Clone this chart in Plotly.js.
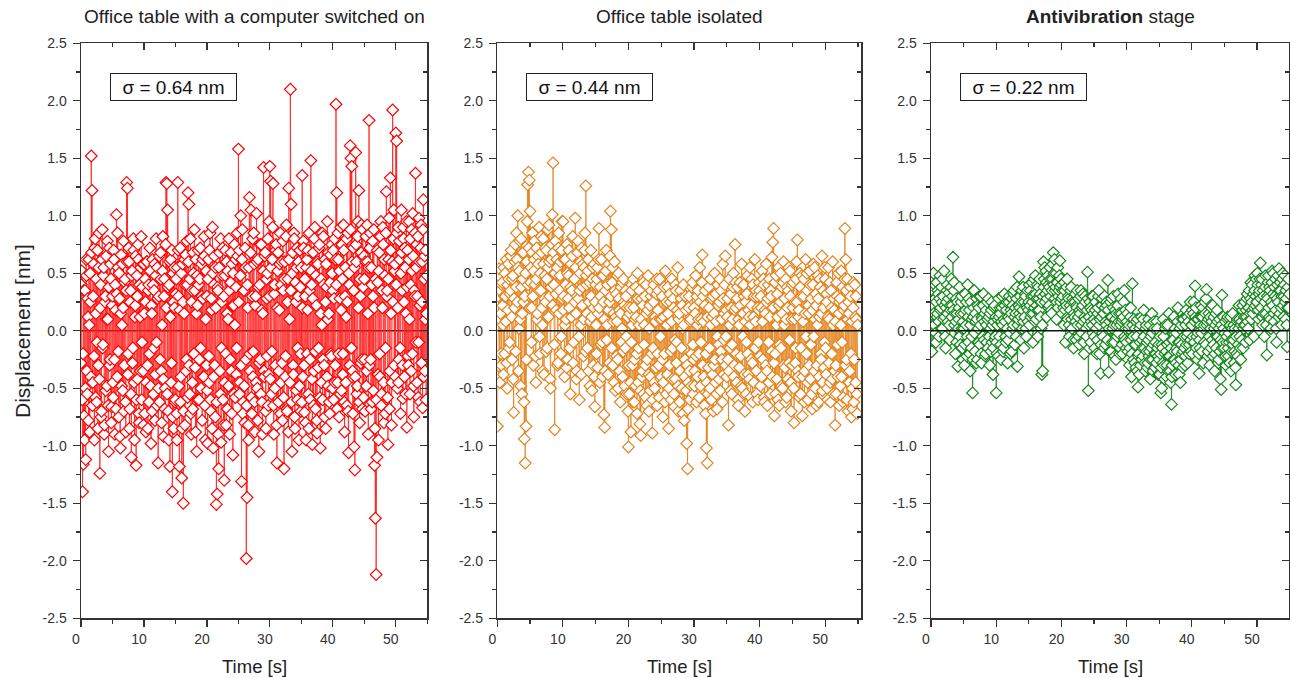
<!DOCTYPE html>
<html>
<head>
<meta charset="utf-8">
<script src="https://cdn.plot.ly/plotly-3.0.1.min.js"></script>
<style>
  html, body { margin: 0; padding: 0; background: #ffffff; }
  #chart { width: 1290px; height: 678px; }
</style>
</head>
<body>
<div id="chart"></div>
<script>
// ---------------- DATA ----------------
const panelTitles = [
  'Office table with a computer switched on',
  'Office table isolated',
  '<b>Antivibration</b> stage'
];
const sigmaLabels = ['σ = 0.64 nm', 'σ = 0.44 nm', 'σ = 0.22 nm'];
const timeStart = 0;       // s
const timeStep = 0.0625;   // s, sampling interval
const timeTickVals = [0, 10, 20, 30, 40, 50];
const timeTickText = ['0', '10', '20', '30', '40', '50'];
const dispTickVals = [-2.5, -2.0, -1.5, -1.0, -0.5, 0.0, 0.5, 1.0, 1.5, 2.0, 2.5];
const dispTickText = ['-2.5', '-2.0', '-1.5', '-1.0', '-0.5', '0.0', '0.5', '1.0', '1.5', '2.0', '2.5'];

// Displacement [nm], office table with a computer switched on
const officeOn = [
  -0.28, 0.40, 0.52, -0.60, -1.40, -0.20, -1.16, 0.35, -0.74, -0.95, 0.35, -0.50, -1.12, 0.62, 0.48, -0.35, -0.55, 0.28, 0.12, -0.78, 0.62, 0.05, -0.88, 0.50, 0.25, -0.40, 1.52, 0.68, 1.22, -0.65, -0.45, 0.30, 0.58, -0.22, -0.95, 0.72, 0.80, -0.58, 0.15, 0.45, -0.62, -0.10, 0.70, -0.85, -0.30, 0.55, 0.85, -0.42, -1.24, 0.20, 0.40, -0.75, -0.70, 0.62, 0.88, -0.15, -0.12, 0.48, 0.55, -0.90, -0.82, 0.25, 0.30, -0.52, 0.65, 0.10, -0.48, 0.78, 0.10, -0.65, -1.05, 0.38, 0.72, -0.30, -0.25, 0.58, 0.45, -0.80, -0.66, 0.22,
  0.30, -0.45, -0.58, 0.70, 0.62, -0.25, -0.90, 0.40, 0.18, -0.68, 1.01, 0.32, -0.40, 0.85, 0.55, -0.18, -0.75, 0.50, 0.28, -0.92, -1.02, 0.15, 0.66, -0.48, 0.05, 0.58, -0.52, 0.20, 0.78, -0.70, -0.30, 0.42, 0.45, -0.62, -0.88, 0.35, 1.29, 0.60, 1.24, -0.38, -0.20, 0.72, 0.60, -0.85, -0.68, 0.25, 0.35, -0.55, -1.10, 0.48, 0.52, -0.28, -0.15, 0.80, 0.70, -0.45, -0.95, 0.12, 0.22, 0.65, -1.17, -0.60, 0.48, 0.30, -0.42, 0.75, 0.62, -0.72, -0.80, 0.40, 0.12, -0.35, 0.55, 0.82, -0.60, -0.10, 0.38, 0.58, -0.35, -0.82,
  0.58, 0.15, -0.72, 0.45, 0.25, -0.88, -0.45, 0.60, 0.60, -0.30, -0.85, 0.35, 0.40, -0.62, -0.20, 0.72, 0.52, -0.48, -0.98, 0.22, 0.15, -0.70, 0.62, 0.40, -0.55, -0.15, 0.35, 0.58, -0.78, -0.38, 0.48, 0.80, -0.10, -0.65, 0.55, 0.28, -1.15, -0.50, 0.30, 0.65, -0.62, -0.25, 0.68, 0.45, -0.35, -0.80, 0.05, 0.52, 0.82, -0.42, -0.92, 0.30, 0.45, -0.68, -0.50, 0.75, 1.29, 0.20, 1.28, -0.55, 1.05, 0.38, -0.70, -0.95, 0.40, 0.60, -1.18, 0.12, 0.62, -0.45, -0.28, 0.70, -1.40, -0.75, 0.50, 0.25, -0.85, 0.55, 0.20, -0.62,
  -0.60, 0.32, 0.45, -0.72, -0.95, 0.55, 1.29, 0.70, 0.30, -0.48, -1.18, 0.18, 0.72, -0.62, -0.40, 0.50, -1.28, -0.85, 0.58, 0.25, -1.50, -0.70, 0.15, 0.62, -0.82, 0.40, 0.66, -0.35, -0.25, 0.78, 0.40, -0.58, 1.20, 0.60, 1.10, -0.30, -0.55, 0.45, 0.80, -0.72, -0.90, 0.25, 0.35, -0.45, -0.68, 0.68, 0.50, -0.20, 0.88, 0.35, -0.32, -0.88, 0.62, 0.15, -1.05, 0.48, 0.22, -0.60, 0.70, 0.40, -0.60, -0.25, 0.45, 0.72, -0.15, -0.50, 0.58, 0.30, -0.78, 0.62, 0.28, -0.40, -0.40, 0.82, 0.65, -0.65, -0.95, 0.10, 0.52, -0.30,
  0.30, -0.52, -0.98, 0.45, 0.62, -0.22, -0.45, 0.70, 0.85, -0.60, -0.70, 0.28, 0.18, -0.85, 0.90, 0.50, -1.02, -0.40, 0.40, 0.65, -0.30, -0.75, 0.55, 0.20, -1.51, -0.62, -1.42, 0.38, 0.35, -0.90, -1.20, 0.55, 0.68, -0.35, -0.55, 0.80, -0.97, -0.15, 0.25, 0.48, 0.72, -0.60, -0.82, 0.30, -1.30, -0.45, 0.48, 0.70, -0.20, -0.82, 0.60, 0.15, -0.68, 0.52, 0.10, -0.48, 0.80, 0.35, -0.90, -0.25, 0.42, 0.68, -0.35, -0.72, 0.58, 0.22, -1.08, 0.50, 0.22, -0.55, 0.75, 0.05, -0.58, 0.62, 0.38, -0.38, -0.15, 0.85, 0.65, -0.45,
  1.58, 0.25, 0.70, -0.55, -0.45, 0.48, 1.00, -0.30, -1.31, 0.62, 0.88, -0.72, -0.62, 0.35, 0.35, -0.48, -0.80, 0.72, 0.55, -0.25, -1.98, -0.65, -1.45, 0.40, 0.20, -0.82, -0.95, 0.55, 1.16, -0.20, -0.35, 0.68, 1.05, -0.58, -0.72, 0.30, 0.80, -0.40, -0.18, 0.85, 0.58, -0.62, -0.88, 0.22, 0.30, -0.45, 1.02, 0.60, -0.50, -0.78, 0.62, 0.38, -1.05, -0.28, 0.40, 0.75, -0.25, -0.55, 0.75, 0.18, -0.62, -0.90, 0.15, 0.52, 1.42, -0.35, -0.40, 0.65, 0.68, -0.70, -0.85, 0.45, 0.28, -0.22, 0.50, 0.80, -0.65, -0.38, 0.95, 0.30,
  1.43, -0.42, 1.30, 0.55, -0.55, -0.18, 0.62, 0.90, 1.28, -0.65, -0.90, 0.32, 0.40, -0.50, -0.30, 0.70, 0.75, -0.82, -1.15, 0.20, 0.52, 0.68, -0.62, -0.35, 0.18, 0.58, 0.85, -0.72, -0.45, 0.40, 0.60, -0.28, -0.78, 0.78, 0.35, -0.58, -1.20, 0.45, 0.60, -0.40, -0.22, 0.82, 0.92, -0.68, -0.70, 0.25, 0.45, -0.88, 1.24, 0.62, 0.10, -0.45, 2.10, 0.35, 1.10, -0.62, -1.05, 0.50, 0.68, -0.30, -0.38, 0.85, 0.80, -0.75, -0.85, 0.42, 0.25, -0.52, 0.55, 0.72, -0.60, -0.15, 0.30, 0.60, -0.95, -0.48, 0.70, 0.38, -0.20, -0.70,
  0.55, -0.62, 1.35, 0.20, -0.40, 0.78, 0.72, -0.30, -0.71, 0.45, 0.30, -0.80, -0.95, 0.55, 0.62, -0.20, 0.18, 0.70, -0.55, -0.85, 0.85, 0.35, -0.25, -0.60, 1.48, 0.52, 0.40, -0.42, -0.99, 0.28, 0.68, -0.65, -0.35, 0.80, 0.90, -0.18, -0.68, 0.48, 0.22, -0.78, -0.89, 0.60, 0.58, -0.32, -0.15, 0.72, 0.75, -0.58, -1.02, 0.15, 0.45, -0.45, 0.05, 0.85, -0.60, -0.25, 0.82, 0.40, -0.30, -0.75, 0.62, 0.25, -0.85, 0.58, 0.38, -0.40, 0.95, 0.10, -0.48, 0.68, 0.15, -0.62, -0.72, 0.42, 0.66, -0.20, -0.22, 0.75, 0.50, -0.50,
  0.35, 0.70, -0.60, 0.28, 0.80, -0.45, -0.30, 0.62, 1.97, 0.40, 1.20, -0.68, -0.45, 0.85, 0.62, -0.20, -0.75, 0.52, 0.28, -0.55, 0.90, 0.18, -0.52, 0.75, 0.45, -0.38, -0.20, 0.92, 0.70, -0.62, -0.88, 0.30, 0.55, -0.45, 0.12, 0.80, -0.65, 0.25, 0.85, -0.70, -1.06, 0.50, 0.40, -0.30, 1.61, 0.88, 1.50, -0.15, 1.43, 0.60, -0.35, -0.72, 0.72, 0.35, -1.01, 0.55, -1.21, -0.40, 1.55, 0.75, 0.60, -0.55, -0.48, 0.82, 0.95, 0.20, 1.22, -0.62, -0.80, 0.45, 0.30, -0.28, 0.68, 0.92, -0.25, -0.68, 0.88, 0.38, -0.58, 0.65,
  0.45, -0.25, -0.70, 0.60, 0.82, -0.48, -0.35, 0.92, 0.60, 0.15, -0.90, 0.55, 1.83, -0.30, 0.72, 0.85, -0.25, -0.68, 0.55, 0.40, -0.62, 0.78, 0.30, -0.52, 0.88, 0.20, -1.17, -0.85, -1.63, 0.45, -2.12, -0.60, -1.10, 0.70, 0.42, -0.38, -0.95, 0.52, 0.68, -0.20, -0.40, 0.82, 0.95, -0.65, -0.55, 0.35, 0.20, 0.90, 0.75, -0.45, -0.80, 0.62, 0.48, -0.72, -0.15, 0.85, 1.21, 0.30, 0.35, -0.58, -0.99, 0.45, 0.62, 0.98, -0.68, -0.35, 1.33, 0.70, 0.15, -0.82, -0.45, 0.60, 1.92, 0.25, 0.80, 1.05, -0.30, 0.52, 0.58, -0.40,
  1.72, 0.40, 1.65, 0.85, -0.50, 0.20, 0.90, -0.45, -0.25, 0.78, 0.62, -0.15, -0.72, 0.50, 1.05, 0.68, 0.35, -0.30, -0.59, 0.90, 0.80, 0.25, -0.40, 0.72, 0.55, -0.55, 0.15, 0.95, -0.84, 0.38, 0.70, -0.22, -0.30, 0.62, 0.95, 0.10, -0.55, 0.80, 0.40, -0.35, 0.88, 0.52, -0.20, 1.02, 0.65, -0.48, -0.75, 0.35, 0.30, 0.85, 1.37, -0.10, 0.55, 0.75, -0.45, 0.30, 0.82, -0.58, -0.10, 0.98, 0.60, 0.22, -0.62, 0.72, 0.92, -0.28, 0.25, 0.60, -0.67, 0.88, 1.14, -0.40, 0.45, 0.65, -0.35, 0.10, 0.70, -0.60, 0.15, 0.48
];

// Displacement [nm], office table isolated
const officeIsolated = [
  -0.83, -0.40, 0.30, 0.48, 0.54, 0.10, -0.45, 0.35, 0.15, -0.20, -0.30, 0.40, 0.42, 0.22, 0.05, -0.38, 0.55, 0.30, -0.20, 0.50, 0.30, 0.08, 0.62, -0.28, -0.50, 0.40, 0.18, 0.58, 0.45, -0.15, -0.10, 0.32, 0.35, 0.65, 0.70, 0.12, -0.25, 0.45, 0.48, -0.42, -0.71, 0.28, 0.20, 0.60, 0.75, -0.18, 0.38, 0.85, 0.62, 0.25, 1.00, 0.55, -0.35, 0.02, 0.52, 0.78, 0.10, -0.48, 0.80, 0.38, -0.55, 0.15, 0.45, 0.68, 0.25, -0.62, -0.94, 0.30, -1.15, 0.50, -0.83, -0.25, 0.60, 0.95, 1.27, 0.40, 1.38, 0.72, 1.31, 0.20,
  1.04, 0.42, 0.55, -0.10, 0.20, 0.68, 0.85, 0.30, -0.30, 0.52, 0.62, 0.78, 0.40, -0.22, -0.45, 0.45, 0.72, 0.10, 0.15, 0.65, 0.58, 0.35, 0.90, -0.05, -0.20, 0.50, 0.35, 0.82, 0.68, 0.20, 0.05, -0.35, 0.80, 0.58, -0.38, 0.28, 0.48, 0.72, 0.25, -0.18, 0.70, 0.45, -0.15, 0.88, 0.55, 0.12, 0.92, 0.60, 0.30, -0.42, -0.50, 0.38, 0.62, 0.75, 1.01, 0.22, 1.46, 0.68, 0.40, -0.12, -0.86, 0.50, 0.78, 0.32, 0.18, 0.62, 0.55, -0.30, -0.28, 0.72, 0.85, 0.15, 0.35, 0.48, 0.60, -0.20, -0.05, 0.70, 0.95, 0.28,
  0.95, 0.18, 0.30, 0.62, -0.40, 0.05, 0.62, 0.40, 0.10, -0.32, 0.75, 0.50, -0.25, 0.28, 0.48, 0.70, 0.20, -0.15, -0.55, 0.38, 0.58, 0.12, 0.35, 0.65, 0.82, -0.28, -0.10, 0.45, 0.45, 0.25, 0.98, 0.55, 0.15, -0.42, -0.35, 0.30, 0.68, 0.78, 0.28, -0.05, -0.60, 0.35, 0.50, 0.60, 0.05, -0.38, 0.72, 0.22, 0.38, 0.58, -0.22, 0.10, 0.55, 0.70, 0.85, -0.18, 1.26, 0.48, 0.40, 0.15, -0.15, 0.52, 0.62, -0.35, 0.25, 0.42, -0.48, 0.08, 0.70, 0.30, 0.12, -0.52, 0.45, 0.55, -0.30, 0.20, 0.58, -0.40, -0.66, 0.25,
  0.40, 0.05, -0.20, 0.45, 0.55, -0.32, 0.15, 0.62, 0.89, 0.20, -0.45, 0.38, 0.30, -0.12, 0.62, 0.48, -0.10, -0.40, 0.48, 0.25, -0.73, 0.10, -0.84, -0.35, 0.35, 0.52, 0.70, -0.08, 0.05, 0.40, -0.38, 0.18, 0.58, -0.28, 0.25, 0.65, 1.04, 0.30, 0.88, -0.15, 0.42, 0.55, -0.30, 0.08, 0.15, -0.45, 0.60, 0.35, -0.52, 0.12, 0.32, -0.22, 0.08, 0.48, -0.25, -0.50, 0.50, 0.28, 0.18, -0.35, -0.62, 0.15, 0.38, -0.10, 0.02, 0.42, -0.40, -0.18, 0.45, 0.25, 0.22, -0.48, -0.15, 0.35, 0.30, -0.05, -0.55, 0.20, 0.12, -0.70,
  -1.01, -0.30, -0.55, 0.15, 0.20, -0.45, -0.88, -0.10, 0.35, 0.05, -0.30, -0.62, 0.45, 0.20, -0.62, -0.25, 0.10, -0.48, 0.38, 0.12, -0.20, -0.72, 0.50, 0.28, -0.45, -0.15, 0.05, 0.35, -0.81, -0.52, -0.91, 0.10, 0.28, -0.40, -0.35, 0.22, 0.42, -0.55, -0.12, 0.05, 0.30, -0.30, -0.58, 0.40, 0.15, -0.65, -0.25, 0.18, 0.48, -0.38, -0.70, 0.02, 0.22, -0.52, -0.40, 0.30, 0.35, -0.20, -0.89, -0.60, -0.15, 0.25, 0.40, -0.45, -0.50, 0.12, 0.08, -0.32, 0.32, 0.45, -0.65, -0.20, 0.18, 0.35, -0.30, -0.58, 0.45, 0.10, -0.05, -0.42,
  -0.40, 0.10, 0.30, -0.25, -0.75, -0.45, 0.12, 0.38, -0.20, -0.62, 0.52, 0.05, -0.55, 0.25, 0.05, -0.38, 0.38, 0.15, -0.85, -0.50, -0.30, 0.32, 0.25, -0.18, -0.60, 0.08, 0.45, -0.42, -0.15, 0.28, 0.20, -0.55, -0.66, -0.08, -0.42, 0.40, 0.35, -0.28, -0.10, 0.18, 0.55, -0.48, -0.70, 0.10, 0.15, -0.62, -0.35, 0.35, 0.28, -0.15, -0.50, 0.22, 0.02, -0.72, 0.40, 0.05, -0.78, -0.40, -0.25, 0.30, 0.18, -0.52, -0.98, -0.30, -1.20, -0.68, -0.45, 0.20, 0.30, -0.35, -0.60, 0.08, 0.10, -0.48, -0.20, 0.38, 0.42, -0.12, -0.55, -0.25,
  0.20, -0.48, -0.35, 0.15, 0.48, -0.22, -0.62, 0.30, 0.05, -0.40, 0.35, 0.10, -0.20, -0.58, 0.55, 0.25, -0.48, -0.10, 0.10, 0.42, 0.66, -0.30, 0.30, 0.08, -0.40, -0.65, 0.22, 0.35, -0.72, -0.20, -1.02, -0.45, -1.15, 0.12, -0.55, -0.32, 0.38, 0.20, -0.15, -0.50, 0.45, 0.05, -0.60, 0.28, 0.12, -0.38, 0.30, -0.70, -0.30, 0.15, 0.50, -0.25, -0.45, 0.32, 0.08, -0.55, -0.68, -0.05, 0.40, 0.22, -0.12, -0.42, 0.25, 0.45, -0.52, -0.18, 0.35, 0.10, -0.25, -0.62, 0.58, 0.28, -0.38, -0.08, 0.15, 0.40, 0.65, -0.30, -0.05, 0.18,
  -0.40, 0.12, 0.28, -0.25, -0.82, -0.35, 0.45, 0.05, -0.15, -0.52, 0.32, 0.20, -0.55, -0.12, 0.10, 0.38, 0.50, -0.40, -0.30, 0.18, 0.75, 0.42, 0.20, -0.20, -0.45, 0.28, 0.38, -0.60, -0.65, 0.10, 0.05, -0.32, 0.42, 0.22, -0.22, -0.48, 0.58, 0.15, -0.50, -0.05, 0.15, 0.40, 0.30, -0.38, -0.70, 0.08, 0.25, -0.55, -0.10, 0.32, 0.48, -0.20, -0.38, 0.18, 0.12, -0.42, 0.55, 0.05, -0.58, -0.25, 0.22, 0.45, -0.28, -0.62, 0.40, 0.12, -0.45, 0.30, 0.62, -0.15, 0.08, 0.35, -0.35, -0.55, 0.30, 0.20, -0.60, -0.10, 0.18, 0.42,
  0.35, -0.22, -0.48, 0.30, 0.20, -0.40, 0.52, 0.08, -0.25, 0.45, 0.40, -0.58, -0.62, 0.18, 0.15, -0.30, 0.58, 0.25, -0.35, -0.65, 0.28, 0.40, -0.10, -0.45, 0.45, 0.12, -0.55, 0.35, 0.30, -0.18, 0.64, -0.40, 0.77, 0.20, 0.89, -0.28, -0.74, 0.42, -0.20, -0.55, 0.48, 0.05, -0.42, 0.32, 0.12, -0.60, 0.55, 0.22, -0.65, -0.12, 0.25, 0.50, -0.15, -0.48, 0.38, 0.15, -0.50, 0.42, 0.60, -0.30, 0.05, 0.28, -0.32, -0.62, 0.45, 0.10, -0.58, 0.38, 0.20, -0.42, 0.35, 0.55, -0.28, -0.08, 0.52, 0.30, -0.45, -0.70, 0.10, 0.40,
  -0.30, 0.20, 0.42, -0.50, -0.80, 0.10, 0.25, -0.28, -0.15, 0.45, 0.60, 0.25, 0.79, -0.35, -0.40, 0.12, 0.18, -0.58, 0.50, 0.38, -0.55, -0.15, 0.30, 0.48, -0.74, -0.40, 0.08, 0.30, 0.45, -0.62, -0.35, 0.15, 0.62, -0.05, -0.20, 0.50, 0.35, -0.45, -0.60, 0.22, 0.15, -0.30, 0.52, 0.40, -0.42, -0.12, 0.28, -0.55, -0.68, 0.18, 0.40, 0.58, -0.05, -0.35, 0.55, 0.10, -0.50, 0.32, 0.22, -0.65, -0.30, 0.05, 0.48, 0.28, -0.62, -0.40, 0.12, 0.45, 0.38, -0.20, -0.25, 0.15, 0.65, -0.52, -0.45, 0.35, 0.20, -0.32, -0.10, 0.55,
  0.45, -0.15, -0.38, 0.32, 0.25, -0.50, -0.60, 0.12, 0.55, -0.28, 0.10, 0.42, -0.45, -0.62, 0.35, 0.20, -0.20, -0.42, 0.60, 0.05, -0.55, 0.28, 0.18, -0.35, -0.82, 0.08, -0.30, -0.55, 0.42, 0.30, -0.12, -0.40, 0.50, 0.15, -0.65, 0.25, 0.28, -0.48, 0.05, 0.52, -0.40, -0.10, 0.38, -0.62, -0.58, 0.18, 0.22, 0.45, 0.89, -0.30, 0.62, 0.35, -0.25, -0.60, 0.45, 0.10, -0.70, 0.25, 0.15, -0.45, -0.35, 0.38, 0.30, -0.20, -0.75, 0.08, -0.50, -0.68, 0.20, 0.42, -0.62, -0.25, 0.40, 0.12, -0.45, 0.30, 0.10, -0.55, -0.72, 0.05
];

// Displacement [nm], antivibration stage
const antivibration = [
  0.10, 0.30, -0.18, 0.05, 0.35, 0.22, 0.50, 0.15, 0.05, 0.40, 0.28, -0.02, -0.10, 0.25, 0.42, 0.12, 0.15, 0.35, 0.32, 0.08, -0.05, 0.28, 0.48, 0.18, 0.20, 0.02, 0.38, 0.25, 0.02, 0.45, 0.30, 0.10, 0.52, 0.22, 0.12, -0.05, -0.15, 0.20, 0.25, 0.35, 0.40, 0.15, 0.08, 0.28, 0.33, 0.05, -0.08, 0.22, 0.18, 0.38, 0.45, 0.12, 0.22, 0.30, 0.64, 0.18, 0.35, 0.42, 0.05, 0.15, -0.20, 0.08, 0.28, -0.10, 0.15, 0.25, -0.31, 0.02, 0.10, 0.20, 0.38, -0.05, -0.12, 0.15, 0.25, 0.30, 0.02, -0.15, -0.25, 0.08,
  0.15, 0.02, -0.30, -0.12, 0.32, 0.18, 0.05, 0.25, -0.22, -0.05, 0.40, 0.12, -0.10, 0.28, 0.18, -0.20, -0.35, 0.05, 0.25, -0.15, -0.05, 0.10, -0.54, -0.25, 0.12, 0.20, 0.35, -0.02, -0.18, 0.15, 0.08, -0.28, 0.28, 0.10, -0.25, 0.22, 0.02, -0.10, 0.20, 0.30, -0.12, 0.05, 0.30, -0.20, -0.28, 0.12, 0.10, -0.05, 0.22, 0.32, -0.08, 0.08, 0.15, -0.22, -0.20, 0.18, 0.05, -0.10, 0.25, 0.10, -0.15, 0.28, 0.12, -0.05, -0.30, 0.15, 0.02, -0.18, 0.18, 0.25, -0.10, 0.05, -0.38, -0.15, 0.08, 0.20, 0.22, -0.08, -0.05, 0.12,
  -0.54, -0.10, -0.20, 0.05, 0.10, -0.22, 0.28, 0.12, -0.05, 0.20, 0.15, -0.12, -0.25, 0.08, 0.20, 0.30, 0.05, -0.18, -0.15, 0.10, 0.32, 0.22, 0.08, -0.05, -0.10, 0.18, 0.25, 0.02, -0.28, -0.08, 0.12, 0.25, 0.30, 0.10, -0.02, -0.20, 0.18, 0.15, -0.18, 0.28, 0.22, 0.02, 0.05, 0.32, 0.35, 0.12, -0.12, 0.20, 0.15, -0.05, 0.28, 0.38, -0.31, 0.05, 0.10, 0.22, 0.47, 0.15, 0.20, 0.30, -0.08, 0.12, 0.25, 0.35, 0.02, 0.18, 0.38, 0.08, -0.15, 0.25, 0.12, 0.32, 0.30, 0.02, -0.05, 0.22, 0.20, 0.35, 0.08, 0.18,
  0.25, 0.40, 0.05, 0.22, 0.35, 0.12, 0.15, 0.30, 0.42, 0.25, -0.10, 0.15, 0.30, 0.45, 0.20, 0.08, 0.48, 0.32, 0.10, 0.22, 0.28, 0.40, -0.05, 0.18, 0.38, 0.28, 0.18, 0.45, 0.32, 0.12, 0.02, 0.25, -0.38, 0.05, -0.35, 0.30, 0.60, 0.38, 0.45, 0.55, 0.25, 0.32, 0.52, 0.42, 0.12, 0.28, 0.35, 0.48, 0.40, 0.20, 0.22, 0.38, 0.55, 0.45, 0.30, 0.18, 0.15, 0.35, 0.45, 0.58, 0.68, 0.40, 0.50, 0.62, 0.28, 0.35, 0.38, 0.50, 0.10, 0.25, 0.42, 0.55, 0.20, 0.30, 0.35, 0.48, 0.61, 0.38, 0.25, 0.45,
  0.40, 0.28, 0.15, 0.35, 0.30, 0.20, 0.05, 0.42, 0.35, 0.18, -0.10, 0.25, 0.22, 0.38, 0.45, 0.12, 0.10, 0.30, 0.28, 0.05, -0.05, 0.22, 0.18, 0.35, 0.38, 0.10, 0.02, 0.28, 0.25, -0.08, -0.15, 0.15, 0.12, 0.25, 0.32, 0.08, -0.08, 0.22, 0.20, 0.35, 0.05, 0.12, 0.28, -0.05, -0.12, 0.18, 0.15, 0.30, 0.35, 0.05, -0.02, 0.20, 0.22, 0.32, 0.08, -0.10, -0.20, 0.12, 0.30, 0.25, 0.10, 0.02, -0.05, 0.18, 0.51, 0.28, -0.52, 0.05, 0.12, -0.15, 0.25, 0.20, -0.10, 0.08, 0.18, 0.30, 0.05, -0.02, 0.30, 0.15,
  0.10, -0.05, -0.15, 0.18, 0.25, 0.08, 0.02, -0.20, -0.08, 0.15, 0.20, 0.30, 0.35, 0.05, -0.20, 0.10, -0.37, -0.12, 0.12, 0.22, 0.28, -0.02, -0.05, 0.15, 0.15, -0.15, 0.30, 0.20, -0.12, 0.08, 0.05, 0.25, 0.22, -0.08, 0.44, 0.18, -0.36, 0.02, 0.08, -0.18, 0.25, 0.12, -0.18, 0.28, 0.12, -0.10, 0.02, 0.20, 0.30, 0.05, -0.10, -0.22, 0.18, 0.10, -0.25, 0.15, 0.05, -0.05, 0.22, 0.32, -0.02, 0.08, 0.15, -0.20, -0.15, 0.05, 0.28, 0.15, 0.08, -0.12, -0.20, 0.10, 0.12, 0.25, 0.35, -0.05, -0.08, 0.18, 0.02, -0.15,
  -0.10, 0.08, 0.15, -0.18, -0.25, 0.02, 0.05, -0.30, -0.15, 0.12, 0.20, -0.08, -0.40, -0.20, 0.41, 0.05, -0.05, -0.25, 0.10, -0.12, -0.28, 0.02, -0.12, -0.32, 0.08, -0.05, -0.35, 0.10, -0.49, -0.22, -0.20, -0.38, 0.02, -0.10, -0.30, 0.05, 0.12, -0.25, -0.08, -0.15, -0.22, 0.10, 0.18, -0.05, -0.15, -0.28, -0.35, 0.02, 0.05, -0.18, -0.10, -0.32, -0.28, -0.08, 0.10, -0.22, -0.18, 0.05, -0.42, -0.25, -0.05, -0.15, 0.15, -0.02, -0.25, -0.35, -0.12, 0.08, 0.02, -0.20, -0.32, -0.10, -0.20, -0.28, 0.08, 0.02, -0.15, -0.22, -0.38, -0.12,
  -0.25, -0.38, -0.05, -0.20, -0.54, -0.32, -0.50, -0.12, -0.15, -0.28, 0.10, -0.05, -0.30, -0.42, -0.20, 0.02, 0.05, -0.18, -0.40, -0.30, -0.12, 0.05, -0.35, -0.22, 0.15, -0.10, -0.22, -0.35, -0.45, -0.15, -0.64, -0.40, -0.30, -0.08, -0.08, -0.25, 0.12, -0.18, -0.25, 0.02, -0.38, -0.28, -0.02, -0.15, -0.18, 0.08, 0.20, -0.10, -0.30, -0.38, -0.10, 0.02, -0.45, -0.25, 0.05, -0.12, -0.20, 0.10, -0.32, -0.18, 0.10, -0.05, -0.15, -0.30, -0.22, 0.05, 0.18, -0.12, -0.05, 0.12, -0.28, -0.02, 0.08, -0.20, -0.12, 0.15, 0.25, -0.08, -0.18, 0.05,
  0.05, 0.18, -0.20, -0.05, 0.15, 0.25, -0.10, 0.08, 0.39, 0.12, 0.20, -0.15, -0.05, 0.10, -0.25, -0.02, 0.10, -0.20, -0.37, -0.08, -0.15, 0.05, 0.22, 0.12, -0.02, -0.18, 0.12, 0.20, -0.28, 0.02, 0.05, -0.10, 0.25, 0.15, -0.12, 0.28, 0.36, 0.05, 0.08, -0.22, -0.18, 0.10, 0.15, -0.05, -0.30, 0.12, 0.02, -0.15, 0.20, 0.08, -0.08, 0.22, -0.22, -0.12, 0.12, 0.02, -0.35, -0.20, 0.05, 0.15, -0.15, -0.05, 0.18, 0.08, -0.05, -0.28, -0.25, 0.02, 0.10, -0.18, -0.42, -0.08, -0.51, 0.05, 0.31, -0.15, -0.10, 0.12, 0.02, -0.22,
  -0.15, -0.02, 0.08, -0.22, -0.30, -0.10, -0.05, 0.10, 0.12, -0.15, -0.22, -0.02, -0.10, -0.28, 0.05, 0.12, -0.35, -0.08, -0.18, 0.02, 0.15, -0.12, -0.08, 0.05, -0.28, -0.18, 0.02, -0.32, -0.47, -0.05, -0.20, 0.08, 0.10, -0.22, -0.12, 0.02, 0.22, 0.10, -0.05, -0.15, -0.25, 0.05, 0.08, -0.08, 0.18, 0.22, -0.15, 0.02, 0.05, 0.12, 0.25, 0.05, -0.10, 0.18, 0.12, 0.28, 0.32, 0.08, 0.02, 0.20, 0.20, 0.35, -0.08, 0.15, 0.28, 0.42, 0.10, 0.25, 0.40, 0.18, 0.15, 0.32, -0.05, 0.20, 0.35, 0.48, 0.22, 0.30, 0.45, 0.25,
  0.25, 0.50, 0.40, 0.18, 0.10, 0.32, 0.35, 0.45, 0.59, 0.28, 0.20, 0.40, 0.45, 0.12, 0.05, 0.35, 0.30, 0.15, -0.05, 0.25, 0.38, 0.48, 0.15, 0.05, -0.21, 0.30, 0.28, 0.42, 0.48, 0.20, 0.12, 0.38, 0.35, 0.10, 0.02, 0.25, 0.42, 0.52, 0.22, 0.32, 0.50, 0.15, 0.08, 0.38, 0.30, 0.45, 0.18, 0.02, -0.10, 0.28, 0.40, 0.48, 0.25, 0.12, 0.54, 0.35, 0.15, 0.42, 0.35, 0.20, 0.05, 0.30, 0.45, 0.50, 0.22, 0.12, 0.30, 0.40, 0.48, 0.25, 0.10, 0.35, 0.28, 0.05, -0.14, 0.20, 0.38, 0.45, 0.20, 0.32
];

// ---------------- STYLE / LAYOUT ----------------
const W = 1290, H = 678;
const FONT = 'Liberation Sans, Arial, sans-serif';
const AXC = '#333333';
const seriesList = [officeOn, officeIsolated, antivibration];
const markerColors = ['#ff0000', '#e4821c', '#14861a'];
const lineColors = ['rgba(255,30,30,0.8)', 'rgba(228,130,28,0.8)', 'rgba(20,134,26,0.8)'];
const panelsPx = [[81, 427.3], [497.3, 861], [931, 1289]];
const xRanges = [[0, 55], [0, 55.45], [0, 54.9]];
const plotTop = 43.3, plotBottom = 618.3;
const px = v => v / W;
const py = v => 1 - v / H;
const yDomain = [py(plotBottom), py(plotTop)];

const layout = {
  width: W, height: H,
  margin: {l: 0, r: 0, t: 0, b: 0, pad: 0},
  paper_bgcolor: '#ffffff',
  plot_bgcolor: '#ffffff',
  showlegend: false,
  font: {family: FONT, color: '#222'},
  annotations: [],
  shapes: []
};

const data = [];
for (let i = 0; i < 3; i++) {
  const s = i === 0 ? '' : String(i + 1);
  const sTop = String(i + 4);
  const xName = 'x' + s, yName = 'y' + s;
  const xTop = 'x' + sTop, yRight = 'y' + sTop;
  const dom = [px(panelsPx[i][0]), px(panelsPx[i][1])];

  data.push({
    type: 'scatter', mode: 'lines+markers',
    y: seriesList[i], x0: timeStart, dx: timeStep,
    xaxis: xName, yaxis: yName,
    line: {color: lineColors[i], width: 1},
    marker: {symbol: 'diamond', size: 9, color: '#ffffff',
             line: {color: markerColors[i], width: 1.2}},
    hoverinfo: 'skip'
  });
  // empty carrier so the mirrored (top / right) tick axes are drawn
  data.push({type: 'scatter', mode: 'markers', x: [], y: [], xaxis: xTop, yaxis: yRight, hoverinfo: 'skip'});

  const common = {
    showgrid: false, zeroline: false,
    tickcolor: AXC, tickwidth: 1.2, ticklen: 7,
    automargin: false, fixedrange: true
  };

  layout['xaxis' + s] = Object.assign({}, common, {
    domain: dom, range: xRanges[i], anchor: yName,
    showline: true, mirror: true, linecolor: AXC, linewidth: 1.5,
    tickmode: 'array', tickvals: timeTickVals, ticktext: timeTickText,
    ticks: 'outside', ticklabelshift: -5,
    minor: {tickmode: 'linear', tick0: 0, dtick: 5, ticks: 'outside', ticklen: 4, tickcolor: AXC, tickwidth: 1.2},
    tickfont: {family: FONT, size: 14, color: '#333'}
  });
  layout['xaxis' + sTop] = Object.assign({}, common, {
    overlaying: xName, side: 'top', anchor: yRight, range: xRanges[i],
    showline: false,
    tickmode: 'array', tickvals: timeTickVals, ticktext: timeTickText,
    ticks: 'inside', showticklabels: false,
    minor: {tickmode: 'linear', tick0: 0, dtick: 5, ticks: 'inside', ticklen: 4, tickcolor: AXC, tickwidth: 1.2}
  });
  layout['yaxis' + s] = Object.assign({}, common, {
    domain: yDomain, range: [-2.5, 2.5], anchor: xName,
    showline: true, mirror: true, linecolor: AXC, linewidth: 1.5,
    tickmode: 'array', tickvals: dispTickVals, ticktext: dispTickText,
    ticks: 'outside',
    minor: {tickmode: 'linear', tick0: 0, dtick: 0.25, ticks: 'outside', ticklen: 4, tickcolor: AXC, tickwidth: 1.2},
    tickfont: {family: FONT, size: 14, color: '#333'},
    ticklabelstandoff: 3
  });
  layout['yaxis' + sTop] = Object.assign({}, common, {
    overlaying: yName, side: 'right', anchor: xTop, range: [-2.5, 2.5],
    showline: false,
    tickmode: 'array', tickvals: dispTickVals, ticktext: dispTickText,
    ticks: 'inside', showticklabels: false,
    minor: {tickmode: 'linear', tick0: 0, dtick: 0.25, ticks: 'inside', ticklen: 4, tickcolor: AXC, tickwidth: 1.2}
  });

  // zero reference line
  layout.shapes.push({
    type: 'line', xref: xName + ' domain', yref: yName,
    x0: 0, x1: 1, y0: 0, y1: 0,
    line: {color: '#111', width: 1.5},
    layer: i === 0 ? 'below' : 'above'
  });

  const cx = px((panelsPx[i][0] + panelsPx[i][1]) / 2);
  layout.annotations.push({
    xref: 'paper', yref: 'paper', x: cx, y: py(17),
    xanchor: 'center', yanchor: 'middle', showarrow: false,
    text: panelTitles[i], font: {family: FONT, size: 19, color: '#222'}
  });
  layout.annotations.push({
    xref: 'paper', yref: 'paper', x: cx, y: py(666),
    xanchor: 'center', yanchor: 'middle', showarrow: false,
    text: 'Time [s]', font: {family: FONT, size: 18.5, color: '#222'}
  });
  layout.annotations.push({
    xref: 'paper', yref: 'paper', x: px(panelsPx[i][0] + 92.5), y: py(86.5),
    xanchor: 'center', yanchor: 'middle', showarrow: false,
    text: sigmaLabels[i], font: {family: FONT, size: 19, color: '#111'},
    width: 121, height: 22, align: 'center', valign: 'middle',
    bordercolor: '#222', borderwidth: 1, borderpad: 2, bgcolor: '#ffffff'
  });
}

layout.annotations.push({
  xref: 'paper', yref: 'paper', x: px(22), y: py(331),
  xanchor: 'center', yanchor: 'middle', showarrow: false, textangle: -90,
  text: 'Displacement [nm]', font: {family: FONT, size: 21, color: '#222'}
});

Plotly.newPlot('chart', data, layout, {displayModeBar: false, staticPlot: true});
</script>
</body>
</html>
